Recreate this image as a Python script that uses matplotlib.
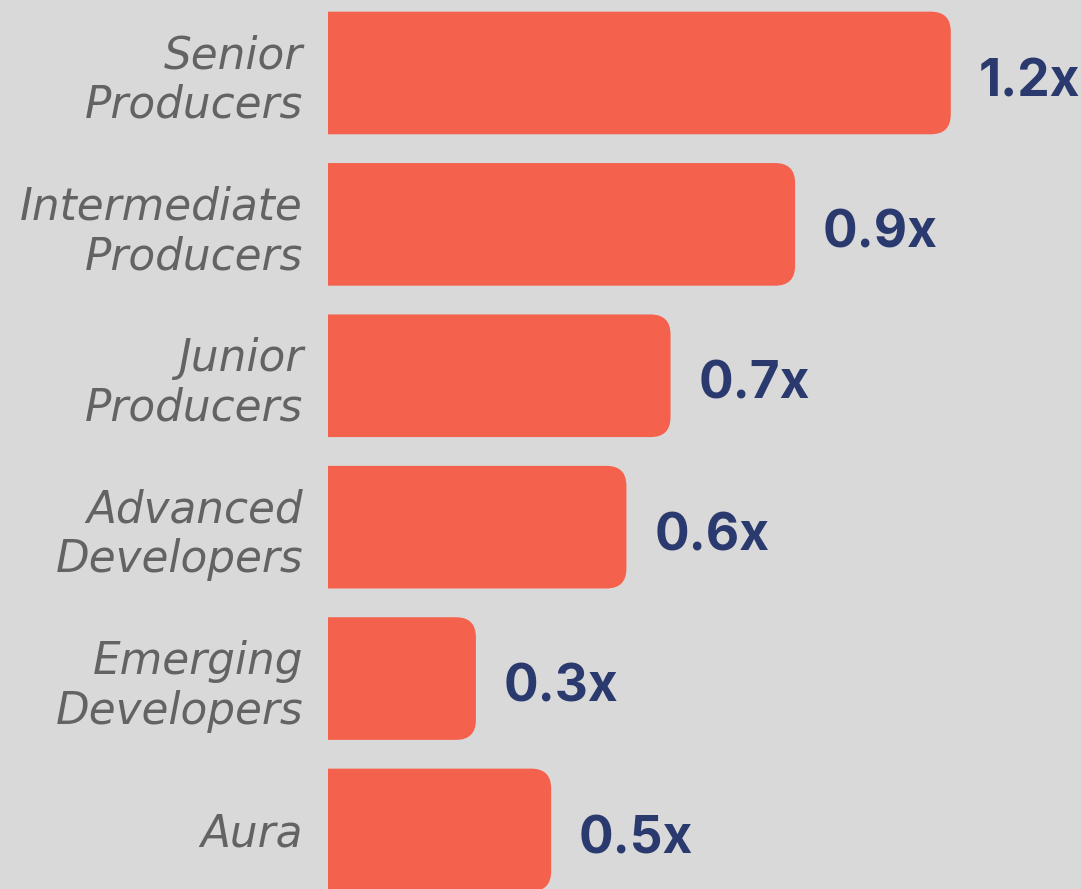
import matplotlib
matplotlib.use("Agg")
import matplotlib.pyplot as plt
from matplotlib.patches import FancyBboxPatch

categories = ["Senior\nProducers", "Intermediate\nProducers", "Junior\nProducers",
              "Advanced\nDevelopers", "Emerging\nDevelopers", "Aura"]
values = [1.2, 0.9, 0.66, 0.575, 0.285, 0.43]
value_labels = ["1.2x", "0.9x", "0.7x", "0.6x", "0.3x", "0.5x"]

bg = "#d9d9d9"
bar_color = "#f4624e"
value_color = "#2b3a6e"
label_color = "#636363"

fig = plt.figure(figsize=(10.81, 8.89), dpi=100, facecolor=bg)
ax = fig.add_axes([328 / 1081, 0, 753 / 1081, 1])
ax.set_facecolor(bg)

xmax = 753 / 519
ax.set_xlim(0, xmax)
ax.set_ylim(5.39, -0.482)

bar_h = 0.81
r = 0.0385
aspect = 3.43
for i, v in enumerate(values):
    # start left of zero so only the right corners show rounded
    p = FancyBboxPatch((-0.1, i - bar_h / 2), v + 0.1, bar_h,
                       boxstyle=f"round,pad=0,rounding_size={r}",
                       mutation_aspect=aspect, facecolor=bar_color,
                       edgecolor="none", clip_on=True)
    ax.add_patch(p)
    ax.annotate(value_labels[i], (v, i), xytext=(20, -7), textcoords="offset points",
                ha="left", va="center", fontsize=37, fontweight="bold",
                color=value_color, family="Inter")

ax.set_yticks(range(len(categories)))
ax.set_yticklabels(categories, fontsize=31.5, style="italic", color=label_color,
                   family="DejaVu Sans", linespacing=1.19)
ax.tick_params(axis="y", length=0, pad=18)
ax.set_xticks([])
for s in ax.spines.values():
    s.set_visible(False)

fig.savefig("out.png", dpi=100, facecolor=bg)
